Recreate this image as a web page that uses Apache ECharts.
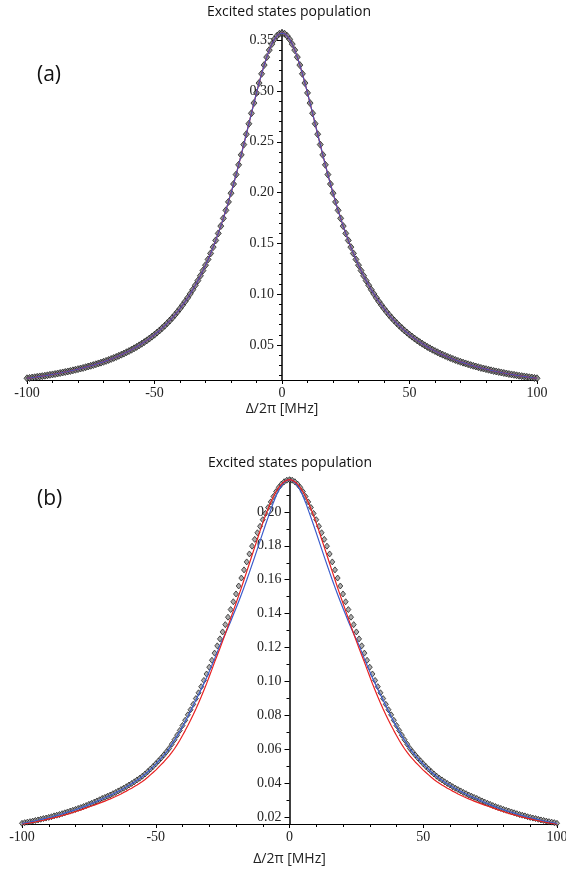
<!DOCTYPE html>
<html>
<head>
<meta charset="utf-8">
<script src="https://cdn.jsdelivr.net/npm/echarts@6/dist/echarts.min.js"></script>
<style>
html, body { margin: 0; padding: 0; background: #fff; }
#chart { width: 566px; height: 869px; }
</style>
</head>
<body>
<div id="chart"></div>
<script>
// detuning grid in MHz, one point per MHz
const detuning = [];
for (let d = -100; d <= 100; d++) detuning.push(d);

// (a) excited state population, simulation and both fits lie on top of each other
const popA = [
  0.0172,0.0175,0.0179,0.0182,0.0186,0.0190,0.0193,0.0197,0.0201,0.0206,
  0.0210,0.0214,0.0219,0.0224,0.0229,0.0234,0.0239,0.0244,0.0250,0.0256,
  0.0262,0.0268,0.0274,0.0281,0.0288,0.0295,0.0302,0.0310,0.0318,0.0326,
  0.0334,0.0343,0.0352,0.0362,0.0372,0.0382,0.0393,0.0404,0.0415,0.0428,
  0.0440,0.0453,0.0467,0.0481,0.0496,0.0512,0.0528,0.0545,0.0563,0.0582,
  0.0601,0.0622,0.0643,0.0666,0.0689,0.0714,0.0740,0.0767,0.0796,0.0826,
  0.0858,0.0892,0.0927,0.0964,0.1003,0.1044,0.1087,0.1133,0.1181,0.1232,
  0.1285,0.1342,0.1401,0.1463,0.1529,0.1598,0.1670,0.1746,0.1825,0.1908,
  0.1994,0.2084,0.2177,0.2273,0.2371,0.2472,0.2574,0.2677,0.2780,0.2881,
  0.2981,0.3078,0.3169,0.3255,0.3333,0.3402,0.3461,0.3508,0.3542,0.3563,
  0.3570,
  0.3563,0.3542,0.3508,0.3461,0.3402,0.3333,0.3255,0.3169,0.3078,0.2981,
  0.2881,0.2780,0.2677,0.2574,0.2472,0.2371,0.2273,0.2177,0.2084,0.1994,
  0.1908,0.1825,0.1746,0.1670,0.1598,0.1529,0.1463,0.1401,0.1342,0.1285,
  0.1232,0.1181,0.1133,0.1087,0.1044,0.1003,0.0964,0.0927,0.0892,0.0858,
  0.0826,0.0796,0.0767,0.0740,0.0714,0.0689,0.0666,0.0643,0.0622,0.0601,
  0.0582,0.0563,0.0545,0.0528,0.0512,0.0496,0.0481,0.0467,0.0453,0.0440,
  0.0428,0.0415,0.0404,0.0393,0.0382,0.0372,0.0362,0.0352,0.0343,0.0334,
  0.0326,0.0318,0.0310,0.0302,0.0295,0.0288,0.0281,0.0274,0.0268,0.0262,
  0.0256,0.0250,0.0244,0.0239,0.0234,0.0229,0.0224,0.0219,0.0214,0.0210,
  0.0206,0.0201,0.0197,0.0193,0.0190,0.0186,0.0182,0.0179,0.0175,0.0172
];

// (b) simulation (diamonds)
const simB = [
  0.0163,0.0167,0.0170,0.0173,0.0176,0.0180,0.0183,0.0187,0.0191,0.0194,
  0.0198,0.0202,0.0207,0.0211,0.0215,0.0220,0.0225,0.0230,0.0235,0.0240,
  0.0245,0.0251,0.0256,0.0262,0.0268,0.0275,0.0281,0.0288,0.0295,0.0302,
  0.0310,0.0316,0.0323,0.0330,0.0338,0.0345,0.0354,0.0362,0.0370,0.0379,
  0.0389,0.0398,0.0408,0.0419,0.0429,0.0441,0.0454,0.0468,0.0483,0.0498,
  0.0514,0.0531,0.0548,0.0566,0.0585,0.0605,0.0630,0.0656,0.0683,0.0711,
  0.0740,0.0771,0.0803,0.0833,0.0865,0.0899,0.0933,0.0969,0.1006,0.1044,
  0.1084,0.1125,0.1167,0.1210,0.1251,0.1292,0.1335,0.1379,0.1424,0.1470,
  0.1516,0.1563,0.1610,0.1658,0.1705,0.1752,0.1798,0.1838,0.1877,0.1915,
  0.1954,0.1991,0.2026,0.2059,0.2091,0.2120,0.2145,0.2164,0.2178,0.2187,
  0.2190,
  0.2187,0.2178,0.2164,0.2145,0.2120,0.2091,0.2059,0.2026,0.1991,0.1954,
  0.1915,0.1877,0.1838,0.1798,0.1752,0.1705,0.1658,0.1610,0.1563,0.1516,
  0.1470,0.1424,0.1379,0.1335,0.1292,0.1251,0.1210,0.1167,0.1125,0.1084,
  0.1044,0.1006,0.0969,0.0933,0.0899,0.0865,0.0833,0.0803,0.0771,0.0740,
  0.0711,0.0683,0.0656,0.0630,0.0605,0.0585,0.0566,0.0548,0.0531,0.0514,
  0.0498,0.0483,0.0468,0.0454,0.0441,0.0429,0.0419,0.0408,0.0398,0.0389,
  0.0379,0.0370,0.0362,0.0354,0.0345,0.0338,0.0330,0.0323,0.0316,0.0310,
  0.0302,0.0295,0.0288,0.0281,0.0275,0.0268,0.0262,0.0256,0.0251,0.0245,
  0.0240,0.0235,0.0230,0.0225,0.0220,0.0215,0.0211,0.0207,0.0202,0.0198,
  0.0194,0.0191,0.0187,0.0183,0.0180,0.0176,0.0173,0.0170,0.0167,0.0163
];

// (b) blue curve
const blueB = [
  0.0161,0.0165,0.0168,0.0171,0.0174,0.0178,0.0181,0.0185,0.0189,0.0192,
  0.0196,0.0200,0.0205,0.0209,0.0213,0.0218,0.0223,0.0228,0.0233,0.0238,
  0.0243,0.0249,0.0254,0.0260,0.0266,0.0273,0.0279,0.0286,0.0293,0.0300,
  0.0308,0.0314,0.0321,0.0328,0.0336,0.0343,0.0352,0.0360,0.0368,0.0377,
  0.0387,0.0396,0.0406,0.0417,0.0427,0.0439,0.0452,0.0466,0.0481,0.0496,
  0.0512,0.0529,0.0546,0.0564,0.0583,0.0603,0.0629,0.0653,0.0679,0.0706,
  0.0734,0.0763,0.0793,0.0825,0.0858,0.0891,0.0922,0.0954,0.0988,0.1022,
  0.1058,0.1095,0.1133,0.1173,0.1214,0.1247,0.1281,0.1317,0.1354,0.1393,
  0.1432,0.1472,0.1513,0.1555,0.1598,0.1643,0.1689,0.1735,0.1782,0.1829,
  0.1876,0.1923,0.1968,0.2012,0.2056,0.2095,0.2128,0.2155,0.2174,0.2186,
  0.2190,
  0.2186,0.2174,0.2155,0.2128,0.2095,0.2056,0.2012,0.1968,0.1923,0.1876,
  0.1829,0.1782,0.1735,0.1689,0.1643,0.1598,0.1555,0.1513,0.1472,0.1432,
  0.1393,0.1354,0.1317,0.1281,0.1247,0.1214,0.1173,0.1133,0.1095,0.1058,
  0.1022,0.0988,0.0954,0.0922,0.0891,0.0858,0.0825,0.0793,0.0763,0.0734,
  0.0706,0.0679,0.0653,0.0629,0.0603,0.0583,0.0564,0.0546,0.0529,0.0512,
  0.0496,0.0481,0.0466,0.0452,0.0439,0.0427,0.0417,0.0406,0.0396,0.0387,
  0.0377,0.0368,0.0360,0.0352,0.0343,0.0336,0.0328,0.0321,0.0314,0.0308,
  0.0300,0.0293,0.0286,0.0279,0.0273,0.0266,0.0260,0.0254,0.0249,0.0243,
  0.0238,0.0233,0.0228,0.0223,0.0218,0.0213,0.0209,0.0205,0.0200,0.0196,
  0.0192,0.0189,0.0185,0.0181,0.0178,0.0174,0.0171,0.0168,0.0165,0.0161
];

// (b) red curve
const redB = [
  0.0156,0.0159,0.0162,0.0165,0.0168,0.0171,0.0175,0.0178,0.0181,0.0185,
  0.0189,0.0192,0.0196,0.0200,0.0204,0.0209,0.0213,0.0217,0.0222,0.0227,
  0.0232,0.0237,0.0242,0.0248,0.0254,0.0260,0.0265,0.0270,0.0276,0.0282,
  0.0288,0.0294,0.0301,0.0307,0.0314,0.0321,0.0329,0.0336,0.0345,0.0353,
  0.0362,0.0370,0.0380,0.0389,0.0400,0.0410,0.0422,0.0435,0.0449,0.0463,
  0.0477,0.0493,0.0509,0.0525,0.0543,0.0561,0.0581,0.0603,0.0627,0.0653,
  0.0681,0.0710,0.0740,0.0771,0.0804,0.0838,0.0873,0.0910,0.0948,0.0987,
  0.1029,0.1071,0.1114,0.1154,0.1195,0.1238,0.1281,0.1326,0.1372,0.1416,
  0.1461,0.1506,0.1552,0.1600,0.1648,0.1696,0.1744,0.1792,0.1840,0.1888,
  0.1934,0.1978,0.2019,0.2057,0.2091,0.2120,0.2145,0.2164,0.2178,0.2187,
  0.2190,
  0.2187,0.2178,0.2164,0.2145,0.2120,0.2091,0.2057,0.2019,0.1978,0.1934,
  0.1888,0.1840,0.1792,0.1744,0.1696,0.1648,0.1600,0.1552,0.1506,0.1461,
  0.1416,0.1372,0.1326,0.1281,0.1238,0.1195,0.1154,0.1114,0.1071,0.1029,
  0.0987,0.0948,0.0910,0.0873,0.0838,0.0804,0.0771,0.0740,0.0710,0.0681,
  0.0653,0.0627,0.0603,0.0581,0.0561,0.0543,0.0525,0.0509,0.0493,0.0477,
  0.0463,0.0449,0.0435,0.0422,0.0410,0.0400,0.0389,0.0380,0.0370,0.0362,
  0.0353,0.0345,0.0336,0.0329,0.0321,0.0314,0.0307,0.0301,0.0294,0.0288,
  0.0282,0.0276,0.0270,0.0265,0.0260,0.0254,0.0248,0.0242,0.0237,0.0232,
  0.0227,0.0222,0.0217,0.0213,0.0209,0.0204,0.0200,0.0196,0.0192,0.0189,
  0.0185,0.0181,0.0178,0.0175,0.0171,0.0168,0.0165,0.0162,0.0159,0.0156
];

// tick labels
const xTicks = [-100, -50, 0, 50, 100];
const yTicksA = [0.05, 0.10, 0.15, 0.20, 0.25, 0.30, 0.35];
const yMinorA = [0.02, 0.03, 0.04, 0.06, 0.07, 0.08, 0.09, 0.11, 0.12, 0.13, 0.14,
  0.16, 0.17, 0.18, 0.19, 0.21, 0.22, 0.23, 0.24, 0.26, 0.27, 0.28, 0.29,
  0.31, 0.32, 0.33, 0.34];
const yTicksB = [0.02, 0.04, 0.06, 0.08, 0.10, 0.12, 0.14, 0.16, 0.18, 0.20];
const yMinorB = [0.03, 0.05, 0.07, 0.09, 0.11, 0.13, 0.15, 0.17, 0.19, 0.21];

const SERIF = '"Liberation Serif", "DejaVu Serif", serif';
const SANS = '"Open Sans", "Noto Sans", sans-serif';

// plot boxes
const boxA = { left: 27, right: 29, top: 30, height: 350 };
const boxB = { left: 22, right: 9, top: 478, height: 346 };
// distance from the box's left edge to detuning = 0 (the y axis sits there)
const zeroShift = box => (566 - box.left - box.right) / 2;

const pairs = ys => detuning.map((d, i) => [d, ys[i]]);

function xAxisFor(grid, gap) {
  return {
    type: 'value', gridIndex: grid,
    min: xTicks[0], max: xTicks[xTicks.length - 1], interval: 50,
    name: 'Δ/2π [MHz]', nameLocation: 'middle', nameGap: gap,
    nameTextStyle: { fontFamily: SANS, fontSize: 14, color: '#222' },
    axisLine: { onZero: false, lineStyle: { color: '#000', width: 1 } },
    axisTick: { length: 4, lineStyle: { color: '#000' } },
    minorTick: { show: true, splitNumber: 5, length: 3, lineStyle: { color: '#000' } },
    axisLabel: { fontFamily: SERIF, fontSize: 14, color: '#222', margin: 6 },
    splitLine: { show: false },
    minorSplitLine: { show: false }
  };
}

function yMajor(grid, min, max, ticks, shift) {
  return {
    type: 'value', gridIndex: grid, min: min, max: max, position: 'left', offset: -shift,
    axisLine: { onZero: false, lineStyle: { color: '#000', width: 1.5 } },
    axisTick: { customValues: ticks, length: 5, lineStyle: { color: '#000' } },
    axisLabel: {
      customValues: ticks, formatter: v => v.toFixed(2),
      fontFamily: SERIF, fontSize: 14, color: '#222', margin: 8
    },
    splitLine: { show: false }
  };
}

function yMinor(grid, min, max, ticks, shift) {
  return {
    type: 'value', gridIndex: grid, min: min, max: max, position: 'left', offset: -shift,
    axisLine: { show: false, onZero: false },
    axisTick: { customValues: ticks, length: 3, lineStyle: { color: '#000' } },
    axisLabel: { show: false },
    splitLine: { show: false }
  };
}

const diamond = (xi, yi, ys, size, fill) => ({
  type: 'scatter', xAxisIndex: xi, yAxisIndex: yi, data: pairs(ys),
  symbol: 'diamond', symbolSize: size, z: 2,
  itemStyle: { color: fill, borderColor: '#151515', borderWidth: 0.9 }
});

const curve = (xi, yi, ys, color, z) => ({
  type: 'line', xAxisIndex: xi, yAxisIndex: yi, data: pairs(ys),
  showSymbol: false, z: z,
  lineStyle: { color: color, width: 1.2 }
});

const label = (text, x, y, size) => ({
  type: 'text', x: x, y: y,
  style: {
    text: text, font: size + 'px ' + SANS, fill: '#111',
    align: 'left', verticalAlign: 'middle', textAlign: 'left', textVerticalAlign: 'middle'
  }
});
const title = (x, y) => ({
  type: 'text', x: x, y: y,
  style: {
    text: 'Excited states population', font: '14px ' + SANS, fill: '#111',
    align: 'center', verticalAlign: 'middle', textAlign: 'center', textVerticalAlign: 'middle'
  }
});

const chart = echarts.init(document.getElementById('chart'));
chart.setOption({
  animation: false,
  backgroundColor: '#fff',
  grid: [
    Object.assign({ outerBoundsMode: 'none', containLabel: false }, boxA),
    Object.assign({ outerBoundsMode: 'none', containLabel: false }, boxB)
  ],
  xAxis: [xAxisFor(0, 22), xAxisFor(1, 28)],
  yAxis: [
    yMajor(0, 0.0155, 0.36, yTicksA, zeroShift(boxA)),
    yMinor(0, 0.0155, 0.36, yMinorA, zeroShift(boxA)),
    yMajor(1, 0.0159, 0.22, yTicksB, zeroShift(boxB)),
    yMinor(1, 0.0159, 0.22, yMinorB, zeroShift(boxB))
  ],
  graphic: [
    title(289, 12),
    title(290, 463),
    label('(a)', 37, 75, 21),
    label('(b)', 37, 499, 21)
  ],
  series: [
    diamond(0, 0, popA, [6, 7], '#7a7a7a'),
    curve(0, 0, popA, '#e02020', 3),
    curve(0, 0, popA, '#4a52b4', 4),
    diamond(1, 2, simB, [5, 6], '#9a9a9a'),
    curve(1, 2, blueB, '#3a5ccc', 3),
    curve(1, 2, redB, '#e82020', 4)
  ]
});
</script>
</body>
</html>
